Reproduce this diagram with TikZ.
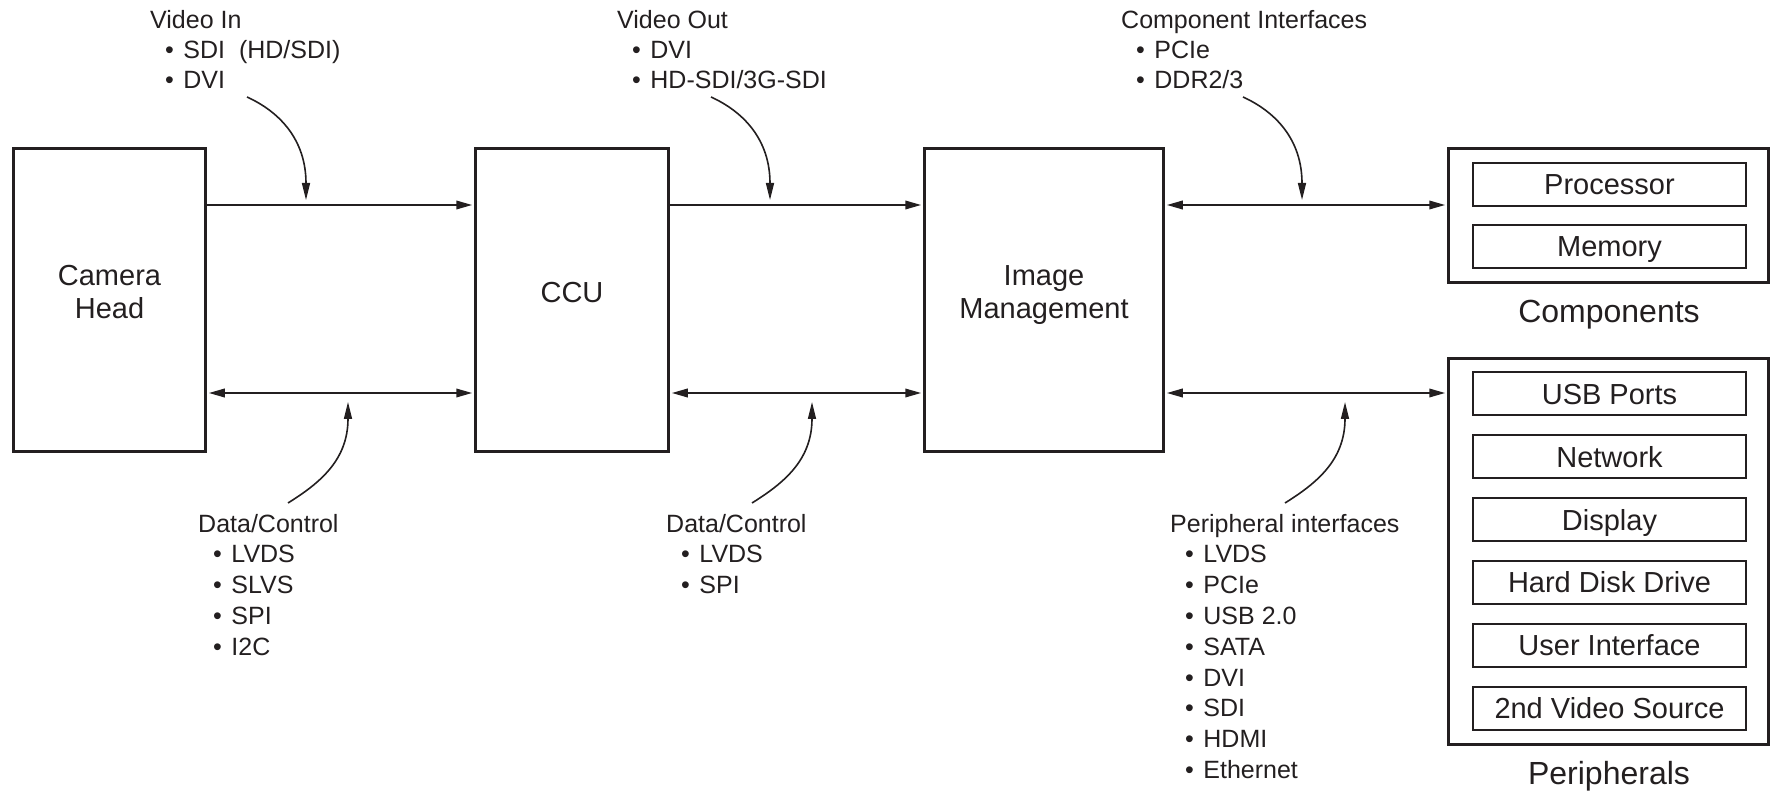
\documentclass[tikz,border=0pt]{standalone}
\usepackage{fontspec}
\setmainfont{Liberation Sans}
\usetikzlibrary{arrows.meta}
\definecolor{ink}{HTML}{231F20}
\newcommand{\twoline}[2]{\vtop{\hbox to 175pt{\hss#1\hss}\hbox to 175pt{\hss#2\hss}}}
\newcommand{\bul}[1]{\hbox{\hspace*{15pt}\textbullet\hspace{9.5pt}#1}}
\begin{document}
\begin{tikzpicture}[x=1pt,y=-1pt,
  blk/.style={draw=ink, line width=3.3pt, inner sep=0pt, minimum height=303pt},
  grp/.style={draw=ink, line width=3.3pt, inner sep=0pt, minimum width=320pt},
  sub/.style={draw=ink, line width=2pt, inner sep=0pt, minimum width=273pt, minimum height=43pt,
    text=ink, font=\fontsize{29}{33}\selectfont, text height=20.8pt, text depth=0pt},
  bt/.style={text=ink, inner sep=0pt, font=\fontsize{29}{33}\selectfont, anchor=base},
  gl/.style={text=ink, inner sep=0pt, font=\fontsize{32}{36}\selectfont, anchor=base},
  lt/.style={text=ink, inner sep=0pt, font=\fontsize{25}{30}\selectfont, anchor=base west},
  lb/.style={text=ink, inner sep=0pt, font=\fontsize{25}{30.8}\selectfont, anchor=base west},
  arr/.style={draw=ink, line width=2pt, -{Triangle[length=16pt,width=8.5pt]}, shorten >=1.6pt},
  darr/.style={draw=ink, line width=2pt, {Triangle[length=16pt,width=8.5pt]}-{Triangle[length=16pt,width=8.5pt]}, shorten >=1.6pt, shorten <=1.6pt},
  carr/.style={draw=ink, line width=1.6pt, -{Triangle[length=17pt,width=8pt]}}
]
\path[use as bounding box] (0,0) rectangle (1773,791);

% main blocks
\node[blk, minimum width=192pt] (cam) at (109.5,300) {};
\node[blk, minimum width=193pt] (ccu) at (572,300) {};
\node[blk, minimum width=239pt] (im) at (1044,300) {};
\node[bt] (camt) at (109.5,285.4) {\twoline{Camera}{Head}};
\node[bt] (ccut) at (572,302.4) {CCU};
\node[bt] (imt) at (1044,285.4) {\twoline{Image}{Management}};

% components group
\node[grp, minimum height=134pt] (comp) at (1608.5,215.5) {};
\node[sub] (proc) at (1609.5,184.5) {Processor};
\node[sub] (mem) at (1609.5,246.5) {Memory};
\node[gl] (compt) at (1609,323) {Components};

% peripherals group
\node[grp, minimum height=386pt] (peri) at (1608.5,551.5) {};
\node[sub] (usb) at (1609.5,394) {USB Ports};
\node[sub] (net) at (1609.5,456.8) {Network};
\node[sub] (disp) at (1609.5,519.6) {Display};
\node[sub] (hdd) at (1609.5,582.4) {Hard Disk Drive};
\node[sub] (ui) at (1609.5,645.2) {User Interface};
\node[sub] (vid) at (1609.5,708) {2nd Video Source};
\node[gl] (perit) at (1609,784.5) {Peripherals};

% interface labels
\node[lt] (vin) at (150,29) {\vtop{\hbox{Video In}\bul{SDI\ \ (HD/SDI)}\bul{DVI}}};
\node[lt] (vout) at (617,29) {\vtop{\hbox{Video Out}\bul{DVI}\bul{HD-SDI/3G-SDI}}};
\node[lt] (cif) at (1121,29) {\vtop{\hbox{Component Interfaces}\bul{PCIe}\bul{DDR2/3}}};
\node[lb] (dc1) at (198,532) {\vtop{\hbox{Data/Control}\bul{LVDS}\bul{SLVS}\bul{SPI}\bul{I2C}}};
\node[lb] (dc2) at (666,532) {\vtop{\hbox{Data/Control}\bul{LVDS}\bul{SPI}}};
\node[lb] (pif) at (1170,532) {\vtop{\hbox{Peripheral interfaces}\bul{LVDS}\bul{PCIe}\bul{USB 2.0}\bul{SATA}\bul{DVI}\bul{SDI}\bul{HDMI}\bul{Ethernet}}};

% horizontal connectors
\coordinate (ytop) at (0,205);
\coordinate (ybot) at (0,393);
\draw[arr] (cam.east |- ytop) -- (ccu.west |- ytop);
\draw[arr] (ccu.east |- ytop) -- (im.west |- ytop);
\draw[darr] (im.east |- ytop) -- (comp.west |- ytop);
\draw[darr] (cam.east |- ybot) -- (ccu.west |- ybot);
\draw[darr] (ccu.east |- ybot) -- (im.west |- ybot);
\draw[darr] (im.east |- ybot) -- (peri.west |- ybot);

% curved pointers from labels
\coordinate (vins) at (247,97);   \coordinate (vine) at (306,200);
\coordinate (vouts) at (711,97);  \coordinate (voute) at (770,200);
\coordinate (cifs) at (1243,97);  \coordinate (cife) at (1302,200);
\coordinate (dc1s) at (288,503);  \coordinate (dc1e) at (348,402);
\coordinate (dc2s) at (752,503);  \coordinate (dc2e) at (812,402);
\coordinate (pifs) at (1285,503); \coordinate (pife) at (1345,402);
\draw[carr] (vins) .. controls (280,112) and (306,140) .. (vine);
\draw[carr] (vouts) .. controls (744,112) and (770,140) .. (voute);
\draw[carr] (cifs) .. controls (1276,112) and (1302,140) .. (cife);
\draw[carr] (dc1s) .. controls (320,483) and (348,460) .. (dc1e);
\draw[carr] (dc2s) .. controls (784,483) and (812,460) .. (dc2e);
\draw[carr] (pifs) .. controls (1317,483) and (1345,460) .. (pife);
\end{tikzpicture}
\end{document}
